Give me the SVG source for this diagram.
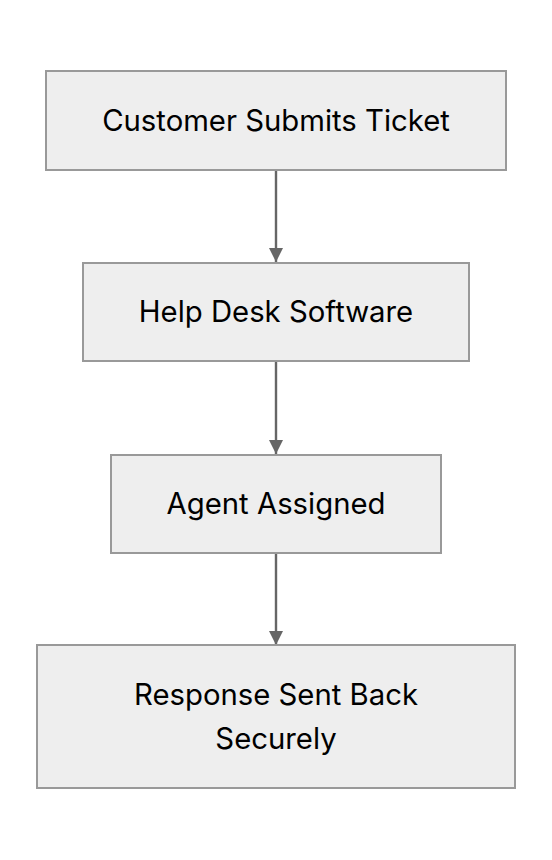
<svg xmlns="http://www.w3.org/2000/svg" width="552" height="860" viewBox="0 0 552 860">
<style>
.node rect{fill:#eeeeee;stroke:#999999;stroke-width:2}
.node text{font-family:Inter,"Noto Sans",sans-serif;font-size:29.3px;fill:#000;text-anchor:middle;dominant-baseline:central}
.edge{stroke:#666666;stroke-width:2.4;fill:none}
</style>
<defs>
<marker id="arr" viewBox="0 0 10 10" refX="10" refY="5" markerWidth="14" markerHeight="14" markerUnits="userSpaceOnUse" orient="auto">
<path d="M0,0 L10,5 L0,10 z" fill="#666666"/>
</marker>
</defs>
<rect width="552" height="860" fill="#ffffff"/>
<g id="connectors">
<line class="edge" x1="276" y1="171" x2="276" y2="262" marker-end="url(#arr)"/>
<line class="edge" x1="276" y1="362" x2="276" y2="454" marker-end="url(#arr)"/>
<line class="edge" x1="276" y1="554" x2="276" y2="645" marker-end="url(#arr)"/>
</g>
<g id="node1" class="node">
<rect x="46" y="71" width="460" height="99"/>
<text x="276" y="120">Customer Submits Ticket</text>
</g>
<g id="node2" class="node">
<rect x="83" y="263" width="386" height="98"/>
<text x="276" y="311">Help Desk Software</text>
</g>
<g id="node3" class="node">
<rect x="111" y="455" width="330" height="98"/>
<text x="276" y="503">Agent Assigned</text>
</g>
<g id="node4" class="node">
<rect x="37" y="645" width="478" height="143"/>
<text x="276" y="694">Response Sent Back</text>
<text x="276" y="738">Securely</text>
</g>
</svg>
